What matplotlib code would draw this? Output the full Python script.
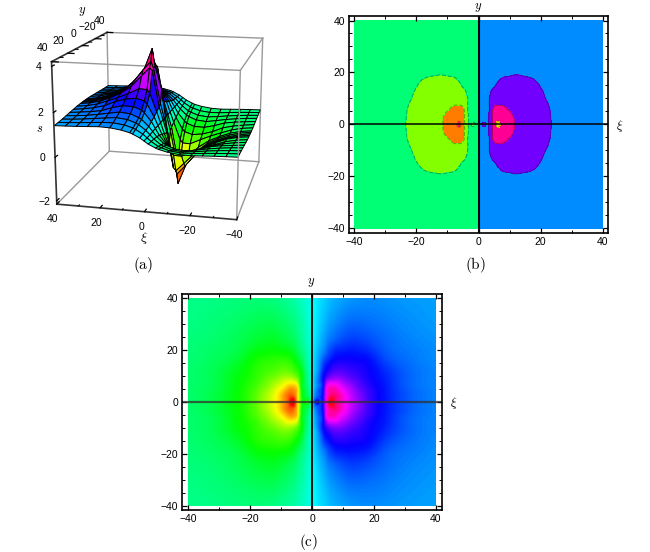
import numpy as np
import matplotlib
matplotlib.use("Agg")
import matplotlib.pyplot as plt
import matplotlib.tri as mtri
from matplotlib.colors import BoundaryNorm, ListedColormap
from matplotlib.ticker import MultipleLocator

plt.rcParams["font.family"] = ["Liberation Sans", "DejaVu Sans"]
plt.rcParams["mathtext.fontset"] = "cm"

# field, right half only (xi >= 0, y >= 0), the rest is mirrored
xi_nodes = [0, 0.8, 1.8, 2.8, 3.5, 4.5, 5.2, 6.2, 7.2, 9, 11.5, 14, 18, 23.5, 30, 40]
y_nodes = [0, 1.2, 2.5, 5, 7, 10, 14, 19, 25, 40]
u_half = [
    [0, 0.70, 1.30, 0.80, 1.20, 2.00, 2.60, 3.20, 2.90, 2.40, 2.00, 1.75, 1.35, 1.00, 0.75, 0.55],
    [0, 0.60, 0.85, 0.85, 1.20, 2.00, 2.55, 3.00, 2.80, 2.40, 2.00, 1.72, 1.34, 0.995, 0.74, 0.55],
    [0, 0.45, 0.70, 0.85, 1.15, 2.00, 2.40, 2.65, 2.65, 2.40, 1.98, 1.70, 1.33, 0.99, 0.74, 0.55],
    [0, 0.35, 0.60, 0.80, 1.05, 2.00, 2.30, 2.40, 2.40, 2.15, 1.85, 1.58, 1.28, 0.98, 0.72, 0.55],
    [0, 0.30, 0.55, 0.75, 1.00, 1.70, 2.00, 2.08, 2.08, 1.92, 1.68, 1.48, 1.21, 0.965, 0.70, 0.54],
    [0, 0.28, 0.50, 0.80, 1.00, 1.25, 1.38, 1.50, 1.55, 1.55, 1.43, 1.32, 1.14, 0.93, 0.70, 0.54],
    [0, 0.22, 0.40, 0.62, 0.80, 0.98, 1.03, 1.15, 1.22, 1.26, 1.22, 1.18, 1.09, 0.85, 0.66, 0.52],
    [0, 0.18, 0.32, 0.45, 0.53, 0.65, 0.75, 0.84, 0.92, 0.97, 1.00, 0.99, 0.93, 0.72, 0.60, 0.50],
    [0, 0.12, 0.22, 0.32, 0.38, 0.46, 0.53, 0.58, 0.63, 0.70, 0.77, 0.79, 0.74, 0.64, 0.55, 0.47],
    [0, 0.06, 0.12, 0.18, 0.20, 0.25, 0.28, 0.32, 0.35, 0.39, 0.44, 0.47, 0.50, 0.48, 0.45, 0.42],
]
s_offset = 1.0
levels = [-5, -3, -2, -1, 0, 1, 2, 3, 5]
band_hues = [330, 30, 90, 150, 210, 270, 330, 55]

major_ticks = [-40, -20, 0, 20, 40]
z_ticks = [-2, 0, 2, 4]

# mirror the half table
xi_pos = np.array(xi_nodes, dtype=float)
y_pos = np.array(y_nodes, dtype=float)
half = np.array(u_half)
xi_all = np.concatenate([-xi_pos[:0:-1], xi_pos])
y_all = np.concatenate([-y_pos[:0:-1], y_pos])
top = np.hstack([-half[:, :0:-1], half])
u_all = np.vstack([top[:0:-1], top])

XN, YN = np.meshgrid(xi_all, y_all)
tri = mtri.Triangulation(XN.ravel(), YN.ravel())
interp = mtri.CubicTriInterpolator(tri, u_all.ravel(), kind="min_E")

xx = np.linspace(-39.98, 39.98, 641)
yy = np.linspace(-39.98, 39.98, 641)
X, Y = np.meshgrid(xx, yy)
U = np.ma.filled(interp(X, Y), 0.0)

hsv = plt.get_cmap("hsv")
band_colors = [hsv((h % 360) / 360.0) for h in band_hues]

fig = plt.figure(figsize=(6.5, 5.52), dpi=100)
W, H = 650.0, 552.0


def axes_px(left, top_px, right, bottom):
    return [left / W, 1 - bottom / H, (right - left) / W, (bottom - top_px) / H]


def style_2d(ax, ylim, xlim):
    ax.set_xlim(-xlim, xlim)
    ax.set_ylim(-ylim, ylim)
    ax.set_xticks(major_ticks)
    ax.set_yticks(major_ticks)
    ax.set_xticklabels([str(t).replace("-", "\u2212") for t in major_ticks])
    ax.set_yticklabels([str(t).replace("-", "\u2212") for t in major_ticks])
    ax.xaxis.set_minor_locator(MultipleLocator(10))
    ax.yaxis.set_minor_locator(MultipleLocator(5))
    ax.tick_params(which="major", direction="in", top=True, right=True, length=3.5, width=0.9, labelsize=7.5, pad=3)
    ax.tick_params(which="minor", direction="in", top=True, right=True, length=2, width=0.7)
    for sp in ax.spines.values():
        sp.set_linewidth(1.2)


# panel (b)
axb = fig.add_axes(axes_px(349, 15.7, 608, 233))
axb.contourf(X, Y, U, levels=levels, cmap=ListedColormap(band_colors), norm=BoundaryNorm(levels, 8))
axb.contour(X, Y, U, levels=[-3, -2, -1, 1, 2, 3], colors="k", linewidths=0.8, alpha=0.3)
axb.axhline(0, color="k", lw=1.1)
axb.axvline(0, color="k", lw=1.5)
style_2d(axb, 41.85, 41.7)

# panel (c)
axc = fig.add_axes(axes_px(182.3, 294, 441.7, 510))
axc.imshow(U, extent=[-40, 40, -40, 40], origin="lower", cmap="hsv", vmin=-3, vmax=3,
           aspect="auto", interpolation="bilinear")
axc.axhline(0, color="#303030", lw=1.6, alpha=0.75)
axc.axvline(0, color="k", lw=1.3)
style_2d(axc, 41.65, 41.9)

# panel (a)
axa = fig.add_axes(axes_px(17, -5, 307, 245), projection="3d")
axa.set_axis_off()
axa.patch.set_alpha(0)
axa.computed_zorder = False
axa.set_proj_type("persp", focal_length=0.6)
axa.set_box_aspect((1, 1, 0.8), zoom=1.08)
axa.view_init(elev=15, azim=103)
zlo, zhi = -2.15, 4.2
axa.set_xlim(-40, 40)
axa.set_ylim(-40, 40)
axa.set_zlim(zlo, zhi)

box_grey = "#999999"
# back edges
for xa, ya, za, xb, yb, zb in [(40, -40, zlo, -40, -40, zlo), (40, 40, zlo, 40, -40, zlo),
                               (40, -40, zlo, 40, -40, zhi), (40, -40, zhi, -40, -40, zhi),
                               (-40, -40, zlo, -40, -40, zhi), (-40, -40, zhi, -40, 40, zhi),
                               (40, 40, zhi, -40, 40, zhi), (-40, -40, zlo, -40, 40, zlo)]:
    axa.plot([xa, xb], [ya, yb], [za, zb], color=box_grey, lw=1.0, zorder=1)

mesh_xi = np.unique(np.concatenate([np.linspace(-39.9, 39.9, 17), [-6.2, -1.8, 1.8, 6.2]]))
mesh_y = np.unique(np.concatenate([np.linspace(-39.9, 39.9, 17), [-2.5, 0, 2.5]]))
MX, MY = np.meshgrid(mesh_xi, mesh_y)
MU = np.ma.filled(interp(MX, MY), 0.0)
face_u = (MU[:-1, :-1] + MU[1:, 1:] + MU[:-1, 1:] + MU[1:, :-1]) / 4
face_cols = hsv((face_u + 3) / 6)
axa.plot_surface(MX, MY, MU + s_offset, facecolors=face_cols, edgecolor="k", linewidth=0.7,
                 rstride=1, cstride=1, shade=False, zorder=2, antialiased=True)

# front edges with ticks
axa.plot([40, -40], [40, 40], [zlo, zlo], color="#333333", lw=1.2, zorder=3)
axa.plot([40, 40], [40, 40], [zlo, zhi], color="#333333", lw=1.2, zorder=3)
axa.plot([40, 40], [40, -40], [zhi, zhi], color="#333333", lw=1.2, zorder=3)
axa.plot([-40, -40], [40, 40], [zlo, zhi], color=box_grey, lw=1.0, zorder=3)

for t in major_ticks:
    axa.plot([t, t], [40, 37], [zlo, zlo], color="k", lw=0.9, zorder=3)
    axa.plot([40, 37], [t, t], [zhi, zhi], color="k", lw=0.9, zorder=3)
    axa.text(t, 46, zlo - 0.45, str(t).replace("-", "\u2212"), fontsize=7.5, ha="center", va="center", zorder=4)
    axa.text(44, t, zhi + 0.55, str(t).replace("-", "\u2212") if t != -40 else "40", fontsize=7.5,
             rotation=90, ha="center", va="center", zorder=4)
for t in z_ticks:
    axa.plot([40, 40], [40, 37], [t, t], color="k", lw=0.9, zorder=3)
    axa.text(45, 42, t, str(t).replace("-", "\u2212"), fontsize=7.5, ha="center", va="center", zorder=4)
for t in range(-30, 40, 20):
    axa.plot([t, t], [40, 38.5], [zlo, zlo], color="k", lw=0.7, zorder=3)
    axa.plot([40, 38.5], [t, t], [zhi, zhi], color="k", lw=0.7, zorder=3)


# labels placed in figure pixels
def fig_text(x, y, s, size=9):
    fig.text(x / W, 1 - y / H, s, fontsize=size, ha="center", va="center")


fig_text(143, 265, r"$\mathrm{(a)}$", 11)
fig_text(475, 265, r"$\mathrm{(b)}$", 11)
fig_text(309, 542, r"$\mathrm{(c)}$", 11)
fig_text(144, 238, r"$\xi$", 10)
fig_text(40, 129, r"$s$", 9)
fig_text(82, 12, r"$y$", 9)
fig_text(478, 7, r"$y$", 9)
fig_text(620, 126, r"$\xi$", 9)
fig_text(311, 283, r"$y$", 9)
fig_text(454, 403, r"$\xi$", 9)

fig.savefig("out.png", dpi=100)
